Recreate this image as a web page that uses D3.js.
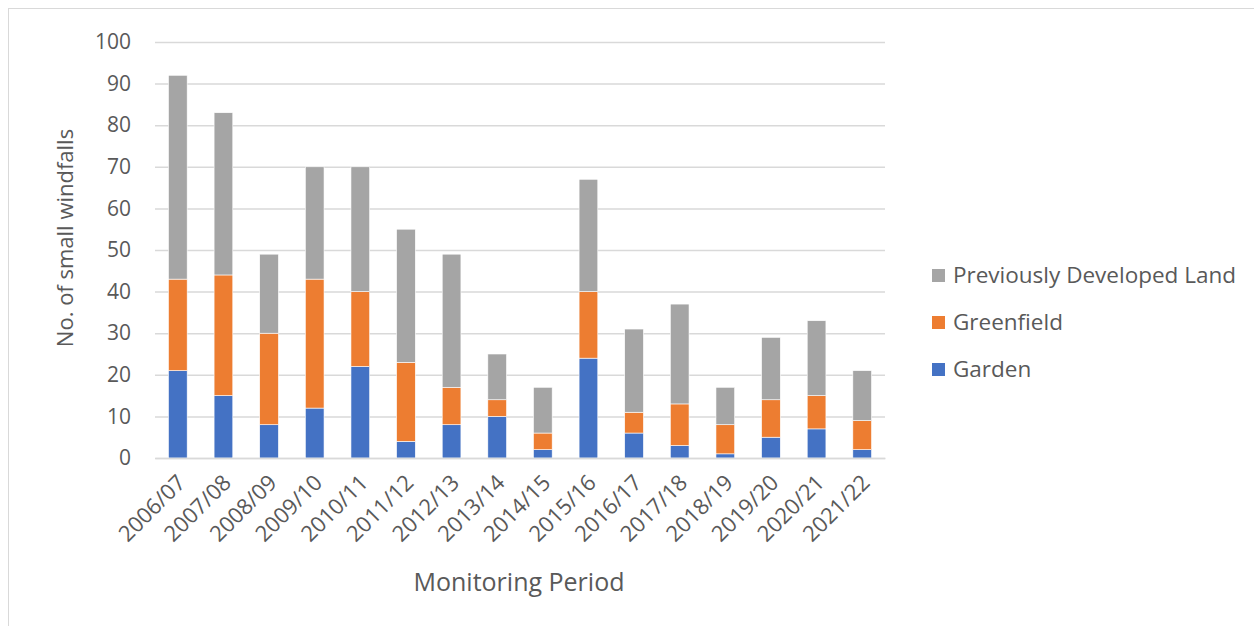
<!DOCTYPE html>
<html><head><meta charset="utf-8">
<script src="https://cdn.jsdelivr.net/npm/d3@7"></script>
<style>body{margin:0;background:#fff;} svg{display:block;}</style>
</head><body>
<svg id="c" width="1254" height="626"></svg>
<script>
const categories = ["2006/07","2007/08","2008/09","2009/10","2010/11","2011/12","2012/13","2013/14","2014/15","2015/16","2016/17","2017/18","2018/19","2019/20","2020/21","2021/22"];
const garden     = [21,15,8,12,22,4,8,10,2,24,6,3,1,5,7,2];
const greenfield = [22,29,22,31,18,19,9,4,4,16,5,10,7,9,8,7];
const pdl        = [49,39,19,27,30,32,32,11,11,27,20,24,9,15,18,12];
const yTicks = [0,10,20,30,40,50,60,70,80,90,100];
const seriesNames = ["Garden","Greenfield","Previously Developed Land"];
const colors = ["#4472C4","#ED7D31","#A5A5A5"];

(function(){
const font = "'Open Sans', sans-serif";
const svg = d3.select("#c");
svg.append("rect").attr("x",8.5).attr("y",8.5).attr("width",1250).attr("height",630)
  .attr("fill","#fff").attr("stroke","#D9D9D9");

const pl=155, pr=885, pt=42, pb=458;
const x = d3.scaleBand().domain(categories).range([pl,pr]).paddingInner(0.59).paddingOuter(0.295);
const y = d3.scaleLinear().domain([0,100]).range([pb,pt]);

const yAxis = svg.append("g").attr("transform",`translate(${pl},0)`)
  .call(d3.axisLeft(y).tickValues(yTicks).tickSize(-(pr-pl)).tickPadding(24));
yAxis.select(".domain").remove();
yAxis.selectAll(".tick line").attr("stroke","#D9D9D9").attr("stroke-width",1.5);
yAxis.selectAll(".tick text").attr("fill","#595959").style("font-family",font).style("font-size","21px");

const data = categories.map((c,i)=>({cat:c, Garden:garden[i], Greenfield:greenfield[i], "Previously Developed Land":pdl[i]}));
const stack = d3.stack().keys(seriesNames)(data);
svg.append("g").selectAll("g").data(stack).join("g").attr("fill",(d,i)=>colors[i])
  .selectAll("rect").data(d=>d).join("rect")
  .attr("x",d=>x(d.data.cat)).attr("width",x.bandwidth())
  .attr("y",d=>y(d[1])).attr("height",d=>y(d[0])-y(d[1]))
  .attr("stroke","#fff").attr("stroke-width",0.6);

const xAxis = svg.append("g").attr("transform",`translate(0,${pb})`)
  .call(d3.axisBottom(x).tickSize(0).tickPadding(0));
xAxis.select(".domain").attr("stroke","#D9D9D9").attr("stroke-width",1.5);
xAxis.selectAll(".tick text").attr("fill","#595959").style("font-family",font).style("font-size","22px")
  .attr("text-anchor","end").attr("dy","0").attr("y",0)
  .attr("transform","translate(9,26) rotate(-45)");

svg.append("text").attr("transform",`translate(73,238) rotate(-90)`)
  .attr("text-anchor","middle").attr("fill","#595959").style("font-family",font).style("font-size","22px")
  .text("No. of small windfalls");
svg.append("text").attr("x",519).attr("y",591).attr("text-anchor","middle")
  .attr("fill","#595959").style("font-family",font).style("font-size","25px").text("Monitoring Period");

const legendOrder = [2,1,0];
const lg = svg.append("g");
legendOrder.forEach((si,k)=>{
  const ly = 275.5 + k*47;
  lg.append("rect").attr("x",932).attr("y",ly-6.5).attr("width",13).attr("height",13).attr("fill",colors[si]);
  lg.append("text").attr("x",953).attr("y",ly+7.5).attr("fill","#595959").style("font-family",font)
    .style("font-size","22.5px").text(seriesNames[si]);
});
})();
</script>
</body></html>
